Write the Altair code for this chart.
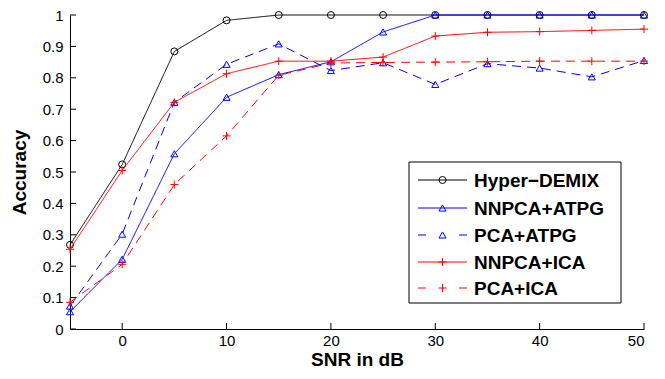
import altair as alt
import pandas as pd

snr = [-5, 0, 5, 10, 15, 20, 25, 30, 35, 40, 45, 50]
series_names = ["Hyper\u2212DEMIX", "NNPCA+ATPG", "PCA+ATPG", "NNPCA+ICA", "PCA+ICA"]
hyper_demix = [0.268, 0.524, 0.884, 0.983, 1.0, 1.0, 1.0, 1.0, 1.0, 1.0, 1.0, 1.0]
nnpca_atpg = [0.055, 0.222, 0.558, 0.738, 0.810, 0.851, 0.946, 1.0, 1.0, 1.0, 1.0, 1.0]
pca_atpg = [0.073, 0.302, 0.722, 0.843, 0.908, 0.823, 0.848, 0.779, 0.845, 0.831, 0.803, 0.855]
nnpca_ica = [0.254, 0.505, 0.722, 0.813, 0.853, 0.853, 0.866, 0.933, 0.945, 0.947, 0.951, 0.955]
pca_ica = [0.085, 0.206, 0.460, 0.615, 0.808, 0.847, 0.849, 0.850, 0.851, 0.853, 0.853, 0.853]
x_ticks = [0, 10, 20, 30, 40, 50]
y_ticks = [0, 0.1, 0.2, 0.3, 0.4, 0.5, 0.6, 0.7, 0.8, 0.9, 1.0]

colors = ["#000000", "#0000ff", "#0000ff", "#ff0000", "#ff0000"]
dashes = [[1, 0], [1, 0], [9, 6], [1, 0], [9, 6]]
plus = "M-1,0L1,0M0,-1L0,1"
shapes = ["circle", "triangle-up", "triangle-up", plus, plus]
sizes = [49, 50, 50, 64, 64]

all_vals = [hyper_demix, nnpca_atpg, pca_atpg, nnpca_ica, pca_ica]
rows = []
for i, (name, vals) in enumerate(zip(series_names, all_vals)):
    for xv, yv in zip(snr, vals):
        rows.append({"series": name, "order": i, "snr": xv, "acc": yv})
df = pd.DataFrame(rows)

FONT = "Liberation Sans"
W, H = 574, 314

xscale = alt.Scale(domain=[-5, 50], nice=False, zero=False)
yscale = alt.Scale(domain=[0, 1], nice=False)
xaxis = alt.Axis(values=x_ticks, title="SNR in dB", tickSize=0, labelPadding=4,
                 titlePadding=2, grid=False, labelOverlap=False)
yaxis = alt.Axis(values=y_ticks, format=".1~f", title="Accuracy", tickSize=0,
                 labelPadding=7, titlePadding=13, grid=False, labelOverlap=False)
X = alt.X("snr:Q", scale=xscale, axis=xaxis)
Y = alt.Y("acc:Q", scale=yscale, axis=yaxis)

layers = []
for i, name in enumerate(series_names):
    sub = df[df.series == name]
    base = alt.Chart(sub).encode(x=X, y=Y)
    line = base.mark_line(color=colors[i], strokeWidth=1, strokeDash=dashes[i])
    pts = base.mark_point(shape=shapes[i], size=sizes[i], filled=False, color=colors[i],
                          strokeWidth=1, opacity=1)
    layers += [line, pts]

# inward ticks
xt = alt.Chart(pd.DataFrame({"snr": x_ticks})).mark_rule(color="black", strokeWidth=1).encode(
    x=X, y=alt.value(H), y2=alt.value(H - 6))
yt = alt.Chart(pd.DataFrame({"acc": y_ticks})).mark_rule(color="black", strokeWidth=1).encode(
    y=Y, x=alt.value(0), x2=alt.value(6))
layers += [xt, yt]

# legend
leg_x0, leg_x1, leg_y0, leg_y1 = 339, 551, 147, 288
row_y = [165, 193, 220, 247, 273]
box = alt.Chart(pd.DataFrame({"a": [0]})).mark_rect(fill="white", stroke="black", strokeWidth=1).encode(
    x=alt.value(leg_x0), x2=alt.value(leg_x1), y=alt.value(leg_y0), y2=alt.value(leg_y1))
layers.append(box)
for i, name in enumerate(series_names):
    d = pd.DataFrame({"series": [name]})
    dash = [1, 0] if dashes[i] == [1, 0] else [8, 33]
    layers.append(alt.Chart(d).mark_rule(color=colors[i], strokeWidth=1, strokeDash=dash).encode(
        x=alt.value(348), x2=alt.value(397), y=alt.value(row_y[i])))
    layers.append(alt.Chart(d).mark_point(shape=shapes[i], size=sizes[i], filled=False, color=colors[i],
                                          strokeWidth=1, opacity=1).encode(
        x=alt.value(372.5), y=alt.value(row_y[i])))
    layers.append(alt.Chart(d).mark_text(align="left", baseline="middle", font=FONT, fontSize=19,
                                         fontWeight="bold", color="black").encode(
        x=alt.value(404), y=alt.value(row_y[i] + 1), text="series:N"))

chart = alt.layer(*layers).properties(
    width=W, height=H,
    padding={"left": 62, "top": 7, "right": 13, "bottom": 42},
    autosize=alt.AutoSizeParams(type="none"),
).configure_view(stroke=None).configure_axis(
    domainColor="black", domainWidth=1, labelColor="black", labelFont=FONT, labelFontSize=15,
    titleFont=FONT, titleFontSize=19, titleFontWeight="bold", titleColor="black",
)

chart.save("out.html", embed_options={"renderer": "svg", "actions": False})
